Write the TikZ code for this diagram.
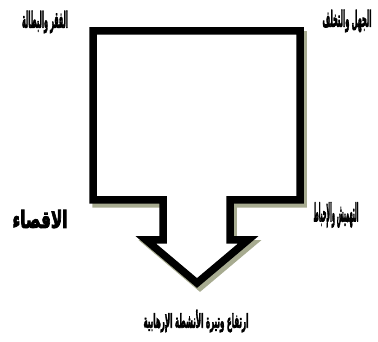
\documentclass[tikz,border=0pt]{standalone}
\usepackage{fontspec}
\newfontfamily\arabicfont[Script=Arabic,FakeBold=4]{DejaVu Sans Bold}
\TeXXeTstate=1
\usepackage{graphicx}
\definecolor{shadowgreen}{HTML}{A7AB90}
\tikzset{
  callout/.style={line width=7.5pt, miter limit=10, line join=miter},
  lbl/.style={inner sep=0pt, font=\arabicfont}
}
\begin{document}
\begin{tikzpicture}[x=1pt,y=-1pt]
\useasboundingbox (0,0) rectangle (378,342);
\def\calloutpath{(93,31) -- (300,31) -- (300,200) -- (230,200) -- (230,240) -- (248,240) -- (197,283) -- (146,240) -- (163,240) -- (163,200) -- (93,200) -- cycle}
\draw[callout, draw=shadowgreen, shift={(3,4)}] \calloutpath;
\draw[callout, draw=black, fill=white] \calloutpath;
\node[lbl] (tl) at (45,22) {\resizebox{46pt}{17pt}{\beginR الفقر والبطالة\endR}};
\node[lbl] (tr) at (347,21) {\resizebox{49pt}{17pt}{\beginR الجهل والتخلف\endR}};
\node[lbl] (ml) at (40,219) {\resizebox{55pt}{18pt}{\beginR الاقصاء\endR}};
\node[lbl] (mr) at (336,215) {\resizebox{45pt}{19pt}{\beginR التهميش والإحباط\endR}};
\node[lbl] (bt) at (196,321) {\resizebox{105pt}{18pt}{\beginR ارتفاع وتيرة الأنشطة الإرهابية\endR}};
\end{tikzpicture}
\end{document}
